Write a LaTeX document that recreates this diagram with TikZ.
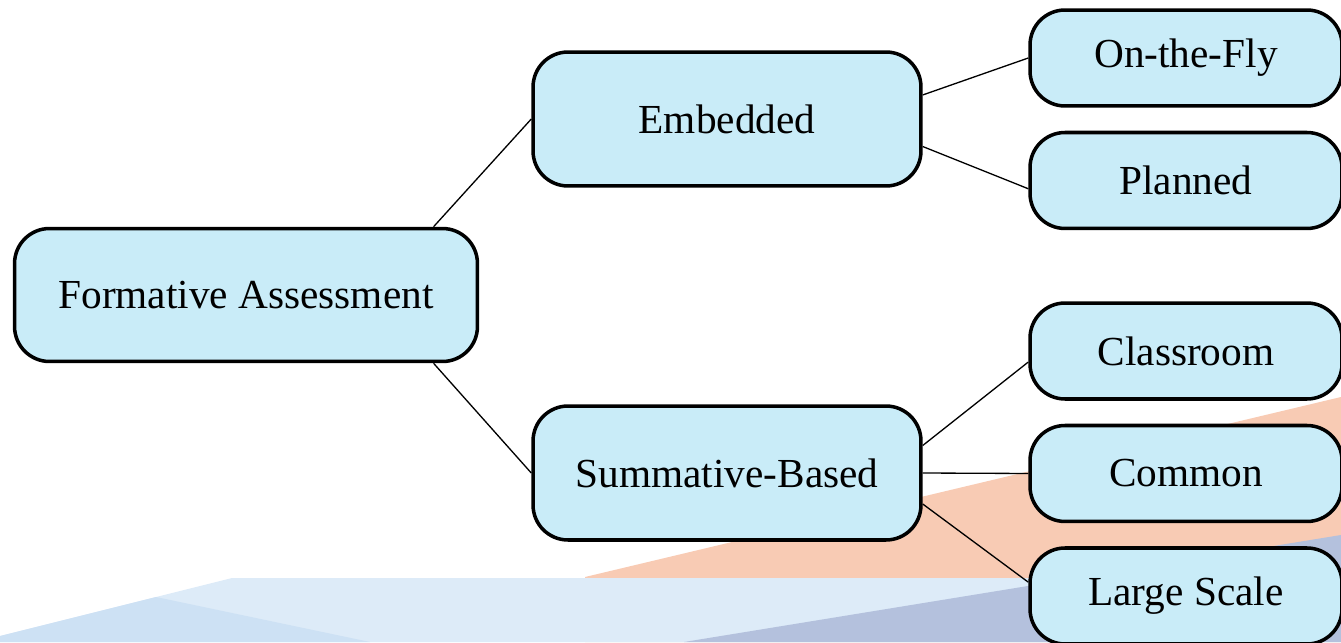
\documentclass[tikz,border=0pt]{standalone}
\usepackage{fontspec}
\setmainfont{Liberation Serif}
\usepackage{xcolor}
\usetikzlibrary{positioning}
\definecolor{boxblue}{HTML}{C9ECF8}
\definecolor{bgsalmon}{HTML}{F8CBB4}
\definecolor{bglight}{HTML}{DDEBF8}
\definecolor{bgblue}{HTML}{CDE1F4}
\definecolor{bgslate}{HTML}{B4C1DD}
\tikzset{
  %category node style
  category/.style={
    draw
    , fill=boxblue
    , line width=2pt
    , anchor=center
    , text centered
    , rounded corners=0.7cm
    , font=\fontsize{23.5}{28}\selectfont
    %, minimum height={2em}
  },
}

\begin{document}
\begin{tikzpicture}[x=0.02cm, y=-0.02cm]
  \tikzstyle{root}=[category, minimum width=9.26cm, minimum height=2.66cm]
  \tikzstyle{mid}=[category, minimum width=7.76cm, minimum height=2.68cm]
  \tikzstyle{leaf}=[category, minimum width=6.24cm, minimum height=1.92cm]
  \tikzstyle{link}=[line width=0.75pt]
  \useasboundingbox (0,0) rectangle (1341,642);

  % background bands
  \fill [bgsalmon] (585,577) -- (1341,397) -- (1341,642) -- (585,642) -- cycle;
  \fill [bglight] (0,636) -- (232,578) -- (1341,578) -- (1341,642) -- (0,642) -- cycle;
  \fill [bgblue] (0,636) -- (156,597) -- (370,642) -- (0,642) -- cycle;
  \fill [bgslate] (684,642) -- (1341,535) -- (1341,642) -- cycle;

  \node [root] (fa) at (246,295) {Formative Assessment};
  \node [mid] (emb) at (727,119) {Embedded};
  \node [mid] (sum) at (727,473) {Summative-Based};

  \node [leaf] (otf) at (1186,58) {On-the-Fly};
  \node [leaf,below=0.46cm of otf] (pla) {Planned};
%
  \node [leaf] (cls) at (1186,351) {Classroom};
  \node [leaf,below=0.46cm of cls] (com) {Common};
  \node [leaf,below=0.46cm of com] (lrg) {Large Scale};

  \draw [link] (fa.20) -- (emb.west);
  \draw [link] (fa.-20) -- (sum.west);

  \draw [link] (emb.7) -- (otf.west);
  \draw [link] (emb.-8) -- (pla.183);

  \draw [link] (sum.8) -- (cls.184);
  \draw [link] (sum.east) -- (com.west);
  \draw [link] (sum.-9) -- (lrg.175);

\end{tikzpicture}
\end{document}
